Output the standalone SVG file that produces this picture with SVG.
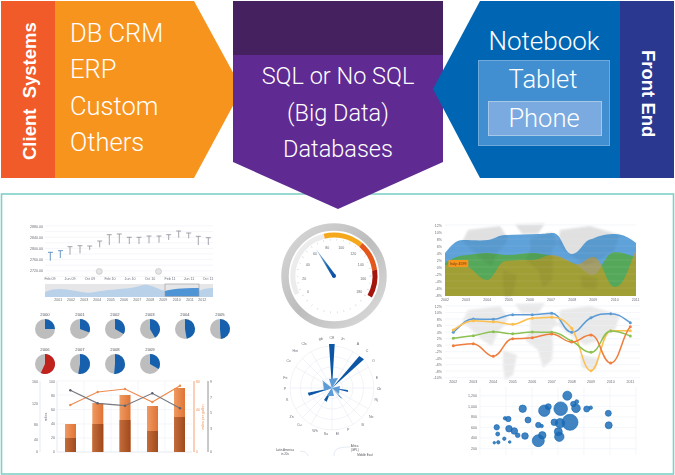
<svg xmlns="http://www.w3.org/2000/svg" width="675" height="475" viewBox="0 0 675 475">
<style>
text{font-family:"Liberation Sans",Arial,sans-serif}
.lt{font-family:Roboto,"Liberation Sans",Arial,sans-serif;font-weight:300}
.h{fill:#fff;font-size:25.500px}
.hc{fill:#fff;font-size:25.500px;text-anchor:middle}
.d{fill:#fff;font-size:23.500px;text-anchor:middle}
.s{fill:#6b6f78;font-size:3.6px}
.m{text-anchor:middle}
.e{text-anchor:end}
.g{stroke:#edf0f7;stroke-width:.6;fill:none}
.pb{fill:#bdbdbd}
.st{stroke:#7c8088;stroke-width:.7;fill:none}
.b{fill:#1569b5;fill-opacity:.82;stroke:#1569b5;stroke-opacity:.82;stroke-width:.8}
.ln{fill:none;stroke-width:1.500}
.pet{fill:#0b57a6}
.pl{fill:#5b9bd5}
.soft{filter:url(#soft)}
</style>
<defs>
<filter id="soft" x="-5%" y="-5%" width="110%" height="110%"><feGaussianBlur stdDeviation=".35"/></filter>
<filter id="mapblur" x="-5%" y="-5%" width="110%" height="110%"><feGaussianBlur stdDeviation="1"/></filter>
<linearGradient id="barL" x1="0" x2="1" y1="0" y2="0"><stop offset="0" stop-color="#ef9a62"/><stop offset="1" stop-color="#df7435"/></linearGradient>
<linearGradient id="barD" x1="0" x2="1" y1="0" y2="0"><stop offset="0" stop-color="#c36c3c"/><stop offset="1" stop-color="#a14a1c"/></linearGradient>
<linearGradient id="ring" x1="0" x2="1" y1="0" y2="1"><stop offset="0" stop-color="#d8d8d8"/><stop offset=".5" stop-color="#bdbdbd"/><stop offset="1" stop-color="#dcdcdc"/></linearGradient>
<linearGradient id="needle" x1="0" x2="1" y1="0" y2="1"><stop offset="0" stop-color="#a6c8ea"/><stop offset=".6" stop-color="#1a66b2"/><stop offset="1" stop-color="#0b4ea2"/></linearGradient>
<g id="map">
<path d="M468 310 500 306 508 318 505 325 498 332 492 346 482 340 472 330 462 322Z"/>
<path d="M503 350 517 355 513 375 505 380 503 365Z"/>
<path d="M530 330 552 328 553 345 552 360 543 368 538 350 525 340Z"/>
<path d="M530 318 552 312 558 325 552 328 530 330Z"/>
<path d="M560 310 590 306 620 315 615 330 600 340 585 345 570 335 558 325Z"/>
<path d="M580 355 598 358 596 370 582 368Z"/>
<path d="M515 304 545 303 538 314 522 314Z"/>
</g>
</defs>

<rect x="1.500" y="194" width="672" height="280" fill="#fff" stroke="#7fd0c8" stroke-width="1.600"/>

<g id="client-systems">
<rect x="1" y="1" width="54" height="177" fill="#f15a29"/>
<path d="M55 1H194L242 89 194 178H55Z" fill="#f7941e"/>
<text transform="translate(36 160) rotate(-90)" fill="#fff" font-size="18.500" font-weight="700" xml:space="preserve">Client  Systems</text>
<text class="h lt" x="70" y="42">DB CRM</text>
<text class="h lt" x="70" y="78">ERP</text>
<text class="h lt" x="70" y="115">Custom</text>
<text class="h lt" x="70" y="151">Others</text>
</g>

<g id="databases">
<rect x="233" y="1" width="210" height="54" fill="#46215f"/>
<path d="M233 55H443V162L338 209 233 162Z" fill="#5f2a91"/>
<text class="d lt" x="338" y="84">SQL or No SQL</text>
<text class="d lt" x="338" y="121">(Big Data)</text>
<text class="d lt" x="338" y="157">Databases</text>
</g>

<g id="front-end">
<path d="M480 1H620V178H480L433 89Z" fill="#0066b3"/>
<rect x="620" y="1" width="54" height="177" fill="#2b388f"/>
<rect x="478.500" y="60.500" width="131" height="85" fill="#418fd0" stroke="#6fa9dc"/>
<rect x="488.500" y="101.500" width="113" height="34" fill="#7aaadf" stroke="#a8c8ea"/>
<text class="lt" x="544" y="50" fill="#fff" font-size="26" text-anchor="middle">Notebook</text>
<text class="hc lt" x="543" y="88">Tablet</text>
<text class="hc lt" x="544" y="127">Phone</text>
<text transform="translate(642 50) rotate(90)" fill="#fff" font-size="18.500" font-weight="700">Front End</text>
</g>

<g id="stock-chart" class="soft">
<path class="g" d="M45 226H213M45 231.600H213M45 237.200H213M45 242.800H213M45 248.400H213M45 254H213M45 259.600H213M45 265.200H213M45 270.800H213M45 276.500H213"/>
<path d="M50.300 252.300V260.700M48 252.300H53M60.300 250.700V258M58 250.700H63" stroke="#4a7fb5" stroke-width=".8" fill="none"/>
<path class="st" d="M70 246.700V254.700M67.500 246.700H72.500M80 245.700V253.300M77.500 245.700H82.500M89.700 246V250M87.200 246H92.200M99.700 241V247.300M97.200 241H102.200M109.300 234.700V245M106.800 234.700H111.800M119.300 234V243.300M116.800 234H121.800M129.300 237.300V244M126.800 237.300H131.800M139 237.300V244M136.500 237.300H141.500M149 236V243.300M146.500 236H151.500M159 236V242.700M156.500 236H161.500M168.700 234.700V240M166.200 234.700H171.200M178.700 231V237.700M176.200 231H181.200M188.700 233V238.300M186.200 233H191.200M198.300 236.300V245M195.800 236.300H200.800M208.300 237.700V245M205.800 237.700H210.800"/>
<circle cx="99.300" cy="271.500" r="3" fill="#e4e4e4" stroke="#b5b5b5" stroke-width=".5"/>
<circle cx="158.500" cy="271.500" r="3" fill="#e4e4e4" stroke="#b5b5b5" stroke-width=".5"/>
<text class="s e" x="43" y="228">2880.00</text><text class="s e" x="43" y="239">2840.00</text><text class="s e" x="43" y="250">2800.00</text><text class="s e" x="43" y="261">2760.00</text><text class="s e" x="43" y="272">2720.00</text>
<text class="s m" x="50" y="280">Feb 09</text><text class="s m" x="70" y="280">Jun 09</text><text class="s m" x="90" y="280">Oct 09</text><text class="s m" x="110" y="280">Feb 10</text><text class="s m" x="130" y="280">Jun 10</text><text class="s m" x="150" y="280">Oct 10</text><text class="s m" x="170" y="280">Feb 11</text><text class="s m" x="189" y="280">Jun 11</text><text class="s m" x="208" y="280">Oct 11</text>
<rect x="45" y="284" width="168" height="13" fill="#e6e6e8"/>
<path d="M45 292C55 288 62 289 70 290S85 294 95 292 120 289 130 288 142 284 148 285 160 290 165 291H199C205 288 210 288 213 288V297H45Z" fill="#b9d2ea"/>
<path d="M165 291C172 289 180 288 199 288V296H165Z" fill="#4f94d4"/>
<rect x="165" y="284" width="34" height="12.500" fill="none" stroke="#9a9a9a" stroke-width=".6"/>
<text class="s m" x="58.300" y="301">2001</text><text class="s m" x="71" y="301">2002</text><text class="s m" x="84.300" y="301">2003</text><text class="s m" x="97.300" y="301">2004</text><text class="s m" x="110.700" y="301">2005</text><text class="s m" x="124" y="301">2006</text><text class="s m" x="137.300" y="301">2007</text><text class="s m" x="150.300" y="301">2008</text><text class="s m" x="163.300" y="301">2009</text><text class="s m" x="176.700" y="301">2010</text><text class="s m" x="190" y="301">2011</text><text class="s m" x="202.300" y="301">2012</text>
</g>

<g id="pie-charts" class="soft">
<g fill="#1561ad">
<circle class="pb" cx="45" cy="329" r="10"/><path d="M45 329V319A10 10 0 0 1 55 329Z"/>
<circle class="pb" cx="80" cy="329" r="10"/><path d="M80 329V319A10 10 0 0 1 89.400 332.400Z"/>
<circle class="pb" cx="115" cy="329" r="10"/><path d="M115 329V319A10 10 0 0 1 123.660 334Z"/>
<circle class="pb" cx="150" cy="329" r="10"/><path d="M150 329V319A10 10 0 0 1 155 337.660Z"/>
<circle class="pb" cx="185" cy="329" r="10"/><path d="M185 329V319A10 10 0 0 1 186.740 338.850Z"/>
<circle class="pb" cx="220" cy="329" r="10"/><path d="M220 329V319A10 10 0 0 1 220.870 338.960Z"/>
<circle class="pb" cx="45" cy="364" r="10"/><path d="M45 364V354A10 10 0 1 1 40.770 373.060Z" fill="#c0201f"/>
<circle class="pb" cx="80" cy="364" r="10"/><path d="M80 364V354A10 10 0 1 1 78.260 373.850Z"/>
<circle class="pb" cx="115" cy="364" r="10"/><path d="M115 364V354A10 10 0 1 1 114.130 373.960Z"/>
<circle class="pb" cx="150" cy="364" r="10"/><path d="M150 364V354A10 10 0 0 1 158.660 369Z"/>
</g>
<g fill="#55585f" font-size="4.200" text-anchor="middle">
<text x="45" y="315.500">2000</text><text x="80" y="315.500">2001</text><text x="115" y="315.500">2002</text><text x="150" y="315.500">2003</text><text x="185" y="315.500">2004</text><text x="220" y="315.500">2005</text>
<text x="45" y="350.500">2006</text><text x="80" y="350.500">2007</text><text x="115" y="350.500">2008</text><text x="150" y="350.500">2009</text>
</g>
</g>

<g id="bar-chart" class="soft">
<path class="g" d="M57 381H192M57 395H192M57 409.500H192M57 424H192M57 438H192M84 381V452M111 381V452M138 381V452M165 381V452"/>
<path d="M40 381V452" stroke="#dce6f2" stroke-width=".8"/>
<path d="M57 381V452H192" stroke="#dce6f2" stroke-width=".8" fill="none"/>
<path d="M194 381V452" stroke="#f08a4b" stroke-width=".8"/>
<path d="M208 381V452" stroke="#777" stroke-width=".8"/>
<rect x="65" y="424" width="11" height="28" fill="url(#barL)"/><rect x="65" y="438" width="11" height="14" fill="url(#barD)"/>
<rect x="92.300" y="403" width="11" height="49" fill="url(#barL)"/><rect x="92.300" y="424" width="11" height="28" fill="url(#barD)"/>
<rect x="119.500" y="395" width="11" height="57" fill="url(#barL)"/><rect x="119.500" y="420" width="11" height="32" fill="url(#barD)"/>
<rect x="147" y="406" width="11" height="46" fill="url(#barL)"/><rect x="147" y="431" width="11" height="21" fill="url(#barD)"/>
<rect x="174" y="388" width="11" height="64" fill="url(#barL)"/><rect x="174" y="417" width="11" height="35" fill="url(#barD)"/>
<path d="M70.300 405 97.700 392 125 389 152.300 402 180 385.700" fill="none" stroke="#ee8c50" stroke-width="1.200"/>
<path d="M70.300 390.300 97.700 403.300 125 405.700 152.300 393.300 180 408.300" fill="none" stroke="#77777d" stroke-width="1.200"/>
<g fill="#ee8c50"><circle cx="70.300" cy="405" r="1.200"/><circle cx="97.700" cy="392" r="1.200"/><circle cx="125" cy="389" r="1.200"/><circle cx="152.300" cy="402" r="1.200"/><circle cx="180" cy="385.700" r="1.200"/></g>
<g fill="#5f5f68"><circle cx="70.300" cy="390.300" r="1.200"/><circle cx="97.700" cy="403.300" r="1.200"/><circle cx="125" cy="405.700" r="1.200"/><circle cx="152.300" cy="393.300" r="1.200"/><circle cx="180" cy="408.300" r="1.200"/></g>
<text class="s m" transform="translate(47 417) rotate(-90)">miles</text>
<text transform="translate(204 417) rotate(-90)" fill="#ee8c50" font-size="3.600" text-anchor="middle">miles per gallon</text>
<text class="s e" x="38" y="383">160</text><text class="s e" x="38" y="405">120</text><text class="s e" x="38" y="426">80</text><text class="s e" x="38" y="441">40</text><text class="s e" x="38" y="453">0</text>
<text class="s e" x="55" y="383">100</text><text class="s e" x="55" y="397">80</text><text class="s e" x="55" y="411">60</text><text class="s e" x="55" y="425">40</text><text class="s e" x="55" y="439">20</text><text class="s e" x="55" y="453">0</text>
<text x="196" y="383" fill="#ee8c50" font-size="3.400">80</text><text x="196" y="411" fill="#ee8c50" font-size="3.400">40</text><text x="196" y="453" fill="#ee8c50" font-size="3.400">0</text>
<text class="s" x="210" y="383">9</text><text class="s" x="210" y="399">7</text><text class="s" x="210" y="414">5</text><text class="s" x="210" y="430">3</text><text class="s" x="210" y="453">0</text>
</g>

<g id="gauge" class="soft">
<circle cx="334" cy="276" r="49" fill="#fff" stroke="url(#ring)" stroke-width="7.500"/>
<g fill="none" stroke-width="5">
<path d="M297.200 294A41 41 0 0 1 324.200 236.200" stroke="#ececec"/>
<path d="M324.200 236.200A41 41 0 0 1 360.800 244.900" stroke="#f5a81c"/>
<path d="M360.800 244.900A41 41 0 0 1 374.600 270.100" stroke="#e4571b"/>
<path d="M374.600 270.100A41 41 0 0 1 369.700 296.200" stroke="#a3170f"/>
</g>
<circle cx="334" cy="276" r="36.500" fill="none" stroke="#d5d9e0" stroke-width="2" stroke-dasharray=".7 6"/>
<path d="M316 249 335.600 275 332.400 277Z" fill="url(#needle)"/>
<circle cx="334" cy="276" r="2" fill="#0b4ea2"/>
<g class="s" text-anchor="middle">
<text x="308" y="292.500">0</text><text x="304.300" y="279.500">20</text><text x="307.700" y="266">40</text><text x="315" y="255">60</text><text x="327.300" y="249">80</text><text x="341.300" y="249">100</text><text x="353.300" y="255">120</text><text x="360.700" y="266">140</text><text x="363.300" y="279.500">160</text><text x="359.300" y="292.500">180</text>
</g>
</g>

<g id="polar-chart" class="soft">
<g fill="none" stroke="#e6ebf4" stroke-width=".6">
<circle cx="332" cy="388" r="10.500"/><circle cx="332" cy="388" r="21"/><circle cx="332" cy="388" r="31.500"/><circle cx="332" cy="388" r="42"/>
<path d="M332 346V430M290 388H374M302.300 358.300 361.700 417.700M302.300 417.700 361.700 358.300M311 351.600 353 424.400M311 424.400 353 351.600M295.600 367 368.400 409M295.600 409 368.400 367"/>
</g>
<path class="pet" d="M329 344H334.700L332 388ZM359.300 356 364 359.300 332 388ZM307.700 392.700 309 395.700 332 388ZM324 400 326.700 401.700 332 388ZM340 397.300 342.700 399 332 388ZM347.700 390 348.300 392 332 388Z"/>
<path class="pl" d="M332 388 322 380 324 384ZM332 388 338 378 329 379ZM332 388 323 383 324 391ZM332 388 340 386 339 394ZM332 388 327 396 334 396Z"/>
<g class="s" text-anchor="middle">
<text x="331.700" y="339">Cff</text><text x="342.700" y="340">Jn</text><text x="358" y="345">A</text><text x="367" y="352">C</text><text x="373.300" y="362">O</text><text x="377" y="379">E</text><text x="379" y="390">Cb</text><text x="376.300" y="401">Rj</text><text x="371.300" y="417.500">Ne</text><text x="362.700" y="426">B</text><text x="348.300" y="431">P</text><text x="337.300" y="435">El</text><text x="326" y="435">Su</text><text x="315" y="432">Wh</text><text x="299.300" y="426">Cu</text><text x="291.700" y="417.500">Zn</text><text x="287.300" y="401">K</text><text x="285" y="390">P</text><text x="285.300" y="379">Fe</text><text x="288.700" y="362">Cs</text><text x="295.300" y="352">Hei</text><text x="304" y="345">Cls</text><text x="320.700" y="340">gb</text>
</g>
<path d="M300 451.500C304 451 307 452 308 456M334 456C334 450 336 447 350 447" fill="none" stroke="#cfdcec" stroke-width=".6"/>
<g fill="#55585f" font-size="3" text-anchor="middle">
<text x="285" y="451">Latin America</text><text x="285" y="455">in 20s</text><text x="354.700" y="447">Africa</text><text x="354.700" y="451">(GPL)</text><text x="365" y="456">Middle East</text>
</g>
</g>

<g id="area-chart" class="soft">
<use href="#map" y="-80" fill="#ececec" filter="url(#mapblur)"/>
<path d="M445 253C451 246 455 240 463 240 472 240 480 241 488 240 495 239 498 235 505 235 515 235 528 234 538 234 545 234 548 233 553 233 562 233 564 254 572 254 580 254 584 239 592 239 600 235 608 234 615 234 623 234 630 238 636 243V296H445Z" fill="#5ea2d9"/>
<path d="M445 263C452 258 460 255 468 255 475 254 480 253 485 253 495 253 500 255 508 255 516 255 524 253 532 253 540 253 545 255 552 256 560 257 568 261 575 264 582 267 586 275 593 275 600 275 605 252 615 252 622 252 628 255 636 257V296H445Z" fill="#55a85a"/>
<path d="M445 265C452 265 460 264 468 267 475 270 480 280 487 280 494 280 498 262 505 261 515 260 524 260 532 260 540 260 545 255 552 255 560 255 568 261 575 264 582 266 586 257 593 257 603 257 606 287 615 287 625 287 630 262 636 250V296H445Z" fill="#d29a1e" fill-opacity=".6"/>
<clipPath id="aclip"><rect x="445" y="225" width="191" height="71"/></clipPath>
<g clip-path="url(#aclip)"><use href="#map" y="-80" fill="#000" fill-opacity=".05" filter="url(#mapblur)"/></g>
<path d="M445 232H636M445 239H636M445 246H636M445 253H636M445 260H636M445 267H636M445 274H636M445 281H636M445 288H636" stroke="#fff" stroke-opacity=".14" stroke-width=".6"/>
<path d="M445 225H636" stroke="#edf0f7" stroke-width=".6"/>
<rect x="448.300" y="260" width="20" height="7" rx="1" fill="#f7941e"/>
<text x="458.300" y="264.800" fill="#5a3a10" font-size="3.500" text-anchor="middle">Italy: 4599</text>
<g class="s" text-anchor="end">
<text x="442" y="226.500">12%</text><text x="442" y="233.500">10%</text><text x="442" y="240.500">8%</text><text x="442" y="247.500">6%</text><text x="442" y="254.500">4%</text><text x="442" y="261.500">2%</text><text x="442" y="268.500">0%</text><text x="442" y="275.500">-2%</text><text x="442" y="283">-4%</text><text x="442" y="290">-6%</text><text x="442" y="297">-8%</text>
</g>
<g class="s" text-anchor="middle">
<text x="445" y="301">2002</text><text x="466" y="301">2003</text><text x="487.300" y="301">2004</text><text x="508.700" y="301">2005</text><text x="530" y="301">2006</text><text x="551" y="301">2007</text><text x="572.300" y="301">2008</text><text x="593.300" y="301">2009</text><text x="614.700" y="301">2010</text><text x="635.700" y="301">2011</text>
</g>
</g>

<g id="line-chart" class="soft">
<use href="#map" fill="#e9e9e9" filter="url(#mapblur)"/>
<path class="g" d="M445 306H640M445 312.600H640M445 319H640M445 325.600H640M445 332H640M445 338.700H640M445 345H640M445 351.700H640M445 358H640M445 364.700H640M445 371H640M445 377.700H640"/>
<path class="ln" stroke="#5b9bd5" d="M453.300 332.300C461 326 465 319 473.300 319S485 319.300 493.300 319.300 504 314.700 512.700 314.700 524 314.700 532.300 314.700 543 313.300 551.700 313.300C561 313.300 563 332.300 571.700 332.300S582 322 591 317.700 602 313.700 610.700 313.700 623 318 630.300 322.700"/>
<path class="ln" stroke="#fdbf4d" d="M453.300 330C460 326 465 320.700 473.300 320.700S485 321.700 493.300 321.700 504 324.300 512.700 324.300 524 318.300 532.300 318.300 543 317.300 551.700 317.300 564 320 571.700 328.300C580 340 583 370.700 591 370.700S602 330.700 610.700 330.700 622 330.700 630.300 330.700"/>
<path class="ln" stroke="#8cc152" d="M453.300 338.300C461 337.500 465 336.500 473.300 335.700S485 331.700 493.300 331.700 504 333.700 512.700 333.700 524 332 532.300 332 543 332.300 551.700 332.300C561 332.300 563 337 571.700 341S582 352.300 591 352.300 602 331 610.700 331 622 333 630.300 336"/>
<path class="ln" stroke="#ef7d3c" d="M453.300 345.700C461 345 465 343.700 473.300 343.700S485 356.300 493.300 356.300 504 338.700 512.700 338.700 524 338.500 532.300 337.700 543 334 551.700 334 563 342 571.700 342 582 335 591 335 602 363 610.700 363 622 335 630.300 326.700"/>
<g fill="#5b9bd5"><circle cx="453.300" cy="332.300" r="1.500"/><circle cx="473.300" cy="319" r="1.500"/><circle cx="493.300" cy="319.300" r="1.500"/><circle cx="512.700" cy="314.700" r="1.500"/><circle cx="532.300" cy="314.700" r="1.500"/><circle cx="551.700" cy="313.300" r="1.500"/><circle cx="571.700" cy="332.300" r="1.500"/><circle cx="591" cy="317.700" r="1.500"/><circle cx="610.700" cy="313.700" r="1.500"/><circle cx="630.300" cy="322.700" r="1.500"/></g>
<g fill="#fdbf4d"><circle cx="453.300" cy="330" r="1.500"/><circle cx="473.300" cy="320.700" r="1.500"/><circle cx="493.300" cy="321.700" r="1.500"/><circle cx="512.700" cy="324.300" r="1.500"/><circle cx="532.300" cy="318.300" r="1.500"/><circle cx="551.700" cy="317.300" r="1.500"/><circle cx="571.700" cy="328.300" r="1.500"/><circle cx="591" cy="370.700" r="1.500"/><circle cx="610.700" cy="330.700" r="1.500"/><circle cx="630.300" cy="330.700" r="1.500"/></g>
<g fill="#8cc152"><circle cx="453.300" cy="338.300" r="1.500"/><circle cx="473.300" cy="335.700" r="1.500"/><circle cx="493.300" cy="331.700" r="1.500"/><circle cx="512.700" cy="333.700" r="1.500"/><circle cx="532.300" cy="332" r="1.500"/><circle cx="551.700" cy="332.300" r="1.500"/><circle cx="571.700" cy="341" r="1.500"/><circle cx="591" cy="352.300" r="1.500"/><circle cx="610.700" cy="331" r="1.500"/><circle cx="630.300" cy="336" r="1.500"/></g>
<g fill="#ef7d3c"><circle cx="453.300" cy="345.700" r="1.500"/><circle cx="473.300" cy="343.700" r="1.500"/><circle cx="493.300" cy="356.300" r="1.500"/><circle cx="512.700" cy="338.700" r="1.500"/><circle cx="532.300" cy="337.700" r="1.500"/><circle cx="551.700" cy="334" r="1.500"/><circle cx="571.700" cy="342" r="1.500"/><circle cx="591" cy="335" r="1.500"/><circle cx="610.700" cy="363" r="1.500"/><circle cx="630.300" cy="326.700" r="1.500"/></g>
<g class="s" text-anchor="end">
<text x="442" y="307.500">12%</text><text x="442" y="314">10%</text><text x="442" y="320.500">8%</text><text x="442" y="327">6%</text><text x="442" y="333.500">4%</text><text x="442" y="340">2%</text><text x="442" y="346.500">0%</text><text x="442" y="353">-2%</text><text x="442" y="359.500">-4%</text><text x="442" y="366">-6%</text><text x="442" y="372.500">-8%</text><text x="442" y="379">-10%</text>
</g>
<g class="s" text-anchor="middle">
<text x="453.300" y="383">2002</text><text x="473.300" y="383">2003</text><text x="493.300" y="383">2004</text><text x="512.700" y="383">2005</text><text x="532.300" y="383">2006</text><text x="551.700" y="383">2007</text><text x="571.700" y="383">2008</text><text x="591" y="383">2009</text><text x="610.700" y="383">2010</text><text x="630.300" y="383">2011</text>
</g>
</g>

<g id="bubble-chart" class="soft">
<path class="g" d="M480 387V455M506 387V455M532 387V455M558 387V455M584 387V455M610 387V455M636 387V455M480 395.700H636M480 406.300H636M480 417H636M480 427.300H636M480 438H636M480 448.700H636"/>
<circle class="b" cx="567.300" cy="395.700" r="4.500"/><circle class="b" cx="522.700" cy="408.700" r="3.700"/><circle class="b" cx="544.300" cy="410.700" r="5.700"/><circle class="b" cx="548.300" cy="406.700" r="3"/><circle class="b" cx="560.700" cy="408.700" r="6.800"/><circle class="b" cx="573.300" cy="404" r="2.700"/><circle class="b" cx="576" cy="408.300" r="4.300"/><circle class="b" cx="576.700" cy="401.700" r="2"/><circle class="b" cx="586.700" cy="409" r="3"/><circle class="b" cx="590.700" cy="407.700" r="1.800"/><circle class="b" cx="608.300" cy="413.300" r="3"/><circle class="b" cx="608.700" cy="425.300" r="3.500"/><circle class="b" cx="570" cy="422.300" r="8"/><circle class="b" cx="560" cy="423.300" r="4.700"/><circle class="b" cx="554.300" cy="422.300" r="3.300"/><circle class="b" cx="558.300" cy="431.700" r="4"/><circle class="b" cx="559.300" cy="436.700" r="4.700"/><circle class="b" cx="542.300" cy="435.300" r="3.700"/><circle class="b" cx="538.300" cy="440.700" r="6"/><circle class="b" cx="528" cy="420" r="3"/><circle class="b" cx="538.300" cy="425" r="2.700"/><circle class="b" cx="541.700" cy="426" r="1.700"/><circle class="b" cx="508.300" cy="419" r="2.700"/><circle class="b" cx="505" cy="418.300" r="1.700"/><circle class="b" cx="496.700" cy="427.300" r="2.700"/><circle class="b" cx="509" cy="428.700" r="3.300"/><circle class="b" cx="514.300" cy="431" r="3.300"/><circle class="b" cx="517.700" cy="435.300" r="2.300"/><circle class="b" cx="525" cy="436" r="3.300"/><circle class="b" cx="497.700" cy="434" r="2"/><circle class="b" cx="504.300" cy="438.700" r="1.700"/><circle class="b" cx="509.700" cy="442" r="1.300"/><circle class="b" cx="494.300" cy="442.700" r="1.300"/><circle class="b" cx="498.300" cy="442.300" r="1.700"/>
<g class="s" text-anchor="end">
<text x="477" y="397">1,200</text><text x="477" y="407.500">1,000</text><text x="477" y="418">800</text><text x="477" y="428.500">600</text><text x="477" y="439">400</text><text x="477" y="450">200</text>
</g>
</g>
</svg>
